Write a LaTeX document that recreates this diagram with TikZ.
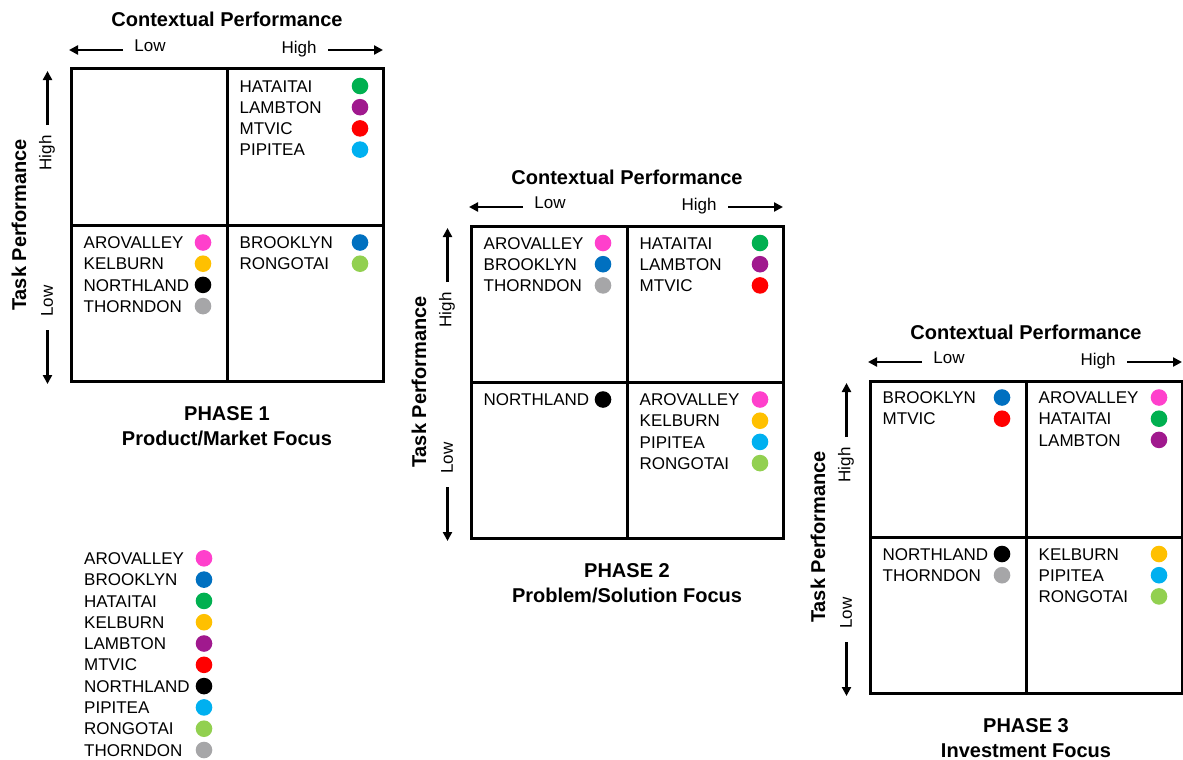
\documentclass[tikz,border=0pt]{standalone}
\usepackage{fontspec}
\setmainfont{Liberation Sans}
\usetikzlibrary{arrows.meta}

% suburb colours
\definecolor{cArovalley}{HTML}{FF40CC}
\definecolor{cBrooklyn}{HTML}{0070C0}
\definecolor{cHataitai}{HTML}{00B050}
\definecolor{cKelburn}{HTML}{FFC000}
\definecolor{cLambton}{HTML}{A0198E}
\definecolor{cMtvic}{HTML}{FF0000}
\definecolor{cNorthland}{HTML}{000000}
\definecolor{cPipitea}{HTML}{00B0F0}
\definecolor{cRongotai}{HTML}{92D050}
\definecolor{cThorndon}{HTML}{A6A6A8}

\tikzset{
  frame/.style={line width=3pt},
  axisarrow/.style={line width=2.3pt,-{Triangle[length=9pt,width=9pt]}},
  heading/.style={font=\fontsize{20}{24}\selectfont\bfseries, inner sep=0pt, anchor=base},
  scalelabel/.style={font=\fontsize{17}{20}\selectfont, inner sep=0pt},
  entry/.style={font=\fontsize{17}{20}\selectfont, inner sep=0pt, anchor=base west},
  dot/.style={circle, inner sep=0pt, minimum size=16.6pt, draw=none},
}

% one suburb: name, text x, dot x, row centre y, label, colour
\newcommand\qentry[6]{%
  \node[entry] (#1) at (#2,{#4+6.1}) {#5};
  \node[dot,fill=#6] (#1d) at (#3,#4) {};
}

% the 2x2 grid with its axes and captions: prefix, phase number, focus
\newcommand\phasegrid[3]{%
  \draw[frame] (0,0) rectangle (312,312);
  \draw[frame] (156,0) -- (156,312);
  \draw[frame] (0,156) -- (312,156);
  % contextual axis
  \node[heading] (#1ctx) at (156,-42) {Contextual Performance};
  \node[scalelabel, anchor=base] (#1clow) at (79,-17.5) {Low};
  \node[scalelabel, anchor=base] (#1chigh) at (228,-16) {High};
  \coordinate (#1ca) at (52,-19);  \coordinate (#1cb) at (-2,-19);
  \coordinate (#1cc) at (257,-19); \coordinate (#1cd) at (312,-19);
  \draw[axisarrow] (#1ca) -- (#1cb);
  \draw[axisarrow] (#1cc) -- (#1cd);
  % task axis
  \node[heading, anchor=center, rotate=90] (#1task) at (-52,156) {Task Performance};
  \node[scalelabel, rotate=90] (#1thigh) at (-24,84) {High};
  \node[scalelabel, rotate=90] (#1tlow) at (-24,232) {Low};
  \coordinate (#1ta) at (-23.5,56);  \coordinate (#1tb) at (-23.5,2);
  \coordinate (#1tc) at (-23.5,261); \coordinate (#1td) at (-23.5,315);
  \draw[axisarrow] (#1ta) -- (#1tb);
  \draw[axisarrow] (#1tc) -- (#1td);
  % captions
  \node[heading] (#1phase) at (156,351) {PHASE #2};
  \node[heading] (#1focus) at (156,376) {#3};
}

\begin{document}
\begin{tikzpicture}[x=1pt,y=-1pt]
\useasboundingbox (0,0) rectangle (1183,760);

% ---------- phase 1 ----------
\begin{scope}[shift={(71,69)}]
  \phasegrid{a}{1}{Product/Market Focus}
  \qentry{aHat}{168.5}{289}{17}{HATAITAI}{cHataitai}
  \qentry{aLam}{168.5}{289}{38.2}{LAMBTON}{cLambton}
  \qentry{aMtv}{168.5}{289}{59.4}{MTVIC}{cMtvic}
  \qentry{aPip}{168.5}{289}{80.6}{PIPITEA}{cPipitea}
  \qentry{aAro}{12.5}{132}{173.5}{AROVALLEY}{cArovalley}
  \qentry{aKel}{12.5}{132}{194.7}{KELBURN}{cKelburn}
  \qentry{aNor}{12.5}{132}{215.9}{NORTHLAND}{cNorthland}
  \qentry{aTho}{12.5}{132}{237.1}{THORNDON}{cThorndon}
  \qentry{aBro}{168.5}{289}{173.5}{BROOKLYN}{cBrooklyn}
  \qentry{aRon}{168.5}{289}{194.7}{RONGOTAI}{cRongotai}
\end{scope}

% ---------- phase 2 ----------
\begin{scope}[shift={(471,226)}]
  \phasegrid{b}{2}{Problem/Solution Focus}
  \qentry{bAro}{12.5}{132}{17}{AROVALLEY}{cArovalley}
  \qentry{bBro}{12.5}{132}{38.2}{BROOKLYN}{cBrooklyn}
  \qentry{bTho}{12.5}{132}{59.4}{THORNDON}{cThorndon}
  \qentry{bHat}{168.5}{289}{17}{HATAITAI}{cHataitai}
  \qentry{bLam}{168.5}{289}{38.2}{LAMBTON}{cLambton}
  \qentry{bMtv}{168.5}{289}{59.4}{MTVIC}{cMtvic}
  \qentry{bNor}{12.5}{132}{173.5}{NORTHLAND}{cNorthland}
  \qentry{bAro2}{168.5}{289}{173.5}{AROVALLEY}{cArovalley}
  \qentry{bKel}{168.5}{289}{194.7}{KELBURN}{cKelburn}
  \qentry{bPip}{168.5}{289}{215.9}{PIPITEA}{cPipitea}
  \qentry{bRon}{168.5}{289}{237.1}{RONGOTAI}{cRongotai}
\end{scope}

% ---------- phase 3 ----------
\begin{scope}[shift={(870,381)}]
  \phasegrid{c}{3}{Investment Focus}
  \qentry{cBro}{12.5}{132}{16.5}{BROOKLYN}{cBrooklyn}
  \qentry{cMtv}{12.5}{132}{37.7}{MTVIC}{cMtvic}
  \qentry{cAro}{168.5}{289}{16.5}{AROVALLEY}{cArovalley}
  \qentry{cHat}{168.5}{289}{37.7}{HATAITAI}{cHataitai}
  \qentry{cLam}{168.5}{289}{58.9}{LAMBTON}{cLambton}
  \qentry{cNor}{12.5}{132}{173}{NORTHLAND}{cNorthland}
  \qentry{cTho}{12.5}{132}{194.2}{THORNDON}{cThorndon}
  \qentry{cKel}{168.5}{289}{173}{KELBURN}{cKelburn}
  \qentry{cPip}{168.5}{289}{194.2}{PIPITEA}{cPipitea}
  \qentry{cRon}{168.5}{289}{215.4}{RONGOTAI}{cRongotai}
\end{scope}

% ---------- legend ----------
\qentry{kAro}{84}{204}{558.3}{AROVALLEY}{cArovalley}
\qentry{kBro}{84}{204}{579.6}{BROOKLYN}{cBrooklyn}
\qentry{kHat}{84}{204}{600.9}{HATAITAI}{cHataitai}
\qentry{kKel}{84}{204}{622.2}{KELBURN}{cKelburn}
\qentry{kLam}{84}{204}{643.5}{LAMBTON}{cLambton}
\qentry{kMtv}{84}{204}{664.8}{MTVIC}{cMtvic}
\qentry{kNor}{84}{204}{686.1}{NORTHLAND}{cNorthland}
\qentry{kPip}{84}{204}{707.4}{PIPITEA}{cPipitea}
\qentry{kRon}{84}{204}{728.7}{RONGOTAI}{cRongotai}
\qentry{kTho}{84}{204}{750}{THORNDON}{cThorndon}
\end{tikzpicture}
\end{document}
